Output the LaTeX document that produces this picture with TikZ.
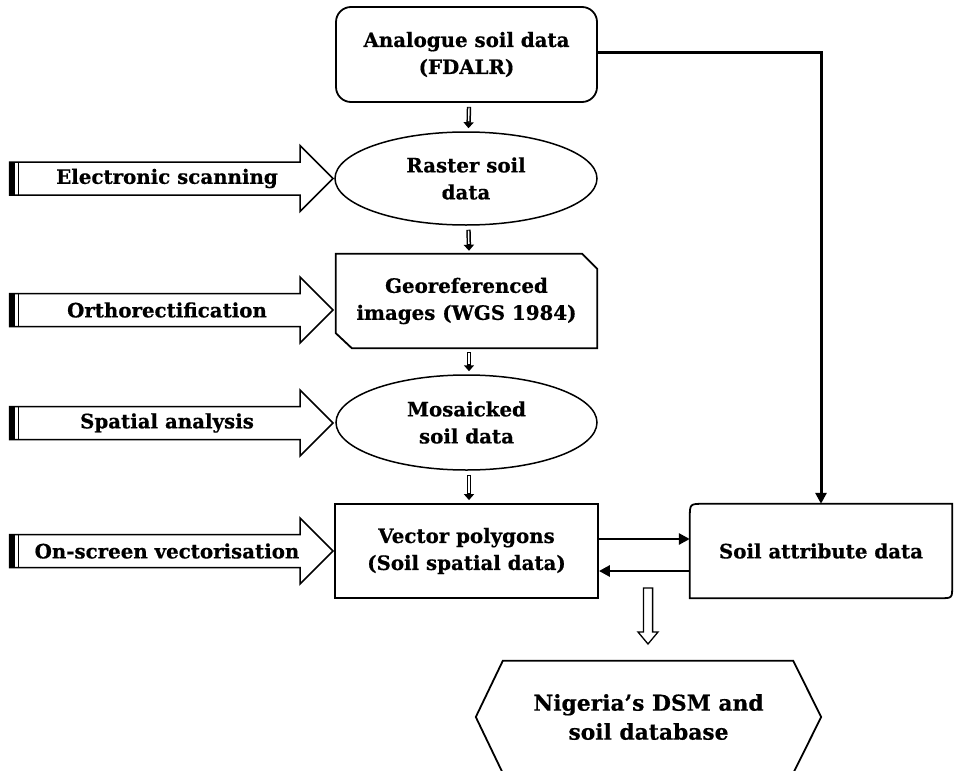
\documentclass[tikz,border=0pt]{standalone}
\usepackage{fontspec}
\setmainfont{DejaVu Serif}[BoldFeatures={FakeBold=0.6}]
\usetikzlibrary{shapes.geometric,arrows.meta,calc}
\begin{document}
\begin{tikzpicture}[x=1pt,y=-1pt,
  txt/.style={font=\bfseries\fontsize{19.8}{27}\selectfont, align=center, inner sep=0pt},
  bigtxt/.style={font=\bfseries\fontsize{21.8}{29}\selectfont, align=center, inner sep=0pt},
  boxline/.style={line width=1.8pt},
  ellline/.style={line width=1.5pt},
  blockarr/.style={line width=1.5pt, fill=white, line join=miter},
  thickconn/.style={line width=3pt, -{Triangle[length=11pt,width=11pt]}},
  medconn/.style={line width=2.8pt, -{Triangle[length=11pt,width=11pt]}},
  smallhead/.style={line width=4.4pt, -{Triangle[length=6pt,width=10pt]}},
  smallinner/.style={white, line width=1.4pt, shorten >=7pt, shorten <=0.8pt},
]
\useasboundingbox (0,0) rectangle (956,771);

% main column nodes
\node[txt, draw, boxline, rounded corners=15pt, minimum width=261pt, minimum height=95pt] (ana) at (466.5,54.5) {Analogue soil data\\(FDALR)};
\node[txt, ellipse, draw, ellline, minimum width=262pt, minimum height=93pt] (ras) at (466,178.5) {Raster soil\\data};
\node[txt, minimum width=261pt, minimum height=94pt] (geo) at (466.5,301) {Georeferenced\\images (WGS 1984)};
\node[txt, ellipse, draw, ellline, minimum width=261pt, minimum height=95pt] (mos) at (466.5,422.5) {Mosaicked\\soil data};
\node[txt, draw, boxline, minimum width=263pt, minimum height=94pt] (vec) at (466.5,551) {Vector polygons\\(Soil spatial data)};
\node[txt, minimum width=262pt, minimum height=94pt] (att) at (821,551) {Soil attribute data};
\node[bigtxt, minimum width=345pt, minimum height=112pt] (nig) at (648.5,717) {Nigeria’s DSM and\\soil database};

% georeferenced box (chamfered corners)
\draw[boxline, line join=miter] (geo.north west) -- ([xshift=-15pt]geo.north east) -- ([yshift=-15pt]geo.north east)
  -- (geo.south east) -- ([xshift=16pt]geo.south west) -- ([yshift=15pt]geo.south west) -- cycle;

% soil attribute box (two rounded corners)
\draw[boxline] ([yshift=-14pt]att.north west) .. controls (att.north west) .. ([xshift=14pt]att.north west)
  -- (att.north east) -- ([yshift=12pt]att.south east) .. controls (att.south east) .. ([xshift=-12pt]att.south east)
  -- (att.south west) -- cycle;

% hexagon
\draw[boxline, line join=miter] (nig.west) -- ([xshift=27pt]nig.north west) -- ([xshift=-28pt]nig.north east)
  -- (nig.east) -- ([xshift=-28pt]nig.south east) -- ([xshift=27pt]nig.south west) -- cycle;

% small vertical arrows
\foreach \a/\b in {ana/ras, ras/geo, geo/mos, mos/vec} {
  \draw[smallhead] ([xshift=2.5pt,yshift=-4pt]\a.south) -- ([xshift=2.5pt,yshift=3pt]\b.north);
  \draw[smallinner] ([xshift=2.5pt,yshift=-4pt]\a.south) -- ([xshift=2.5pt,yshift=3pt]\b.north);
}

% connectors
\draw[thickconn] ([yshift=2.5pt]ana.east) -| (att.north);
\draw[medconn] ([yshift=12pt]vec.east) -- ([yshift=12pt]vec.east -| att.west);
\draw[medconn] ([yshift=-20pt]vec.east -| att.west) -- ([yshift=-20pt]vec.east);

% hollow down arrow to the database
\coordinate (hd0) at (648,588);
\coordinate (hd1) at (648,644);
\draw[blockarr, line width=1.3pt] ($(hd0)+(-4.6,0)$) -- ($(hd0)+(4.6,0)$) -- ($(hd1)+(4.6,-12)$) -- ($(hd1)+(10,-12)$)
  -- (hd1) -- ($(hd1)+(-10,-12)$) -- ($(hd1)+(-4.6,-12)$) -- cycle;

% striped block arrows on the left
\foreach \yc/\lab/\nm in {178.5/Electronic scanning/lA, 310/Orthorectification/lB, 423/Spatial analysis/lC, 551/On-screen vectorisation/lD} {
  \draw[blockarr] (9.5,\yc-16.5) -- (300,\yc-16.5) -- (300,\yc-33) -- (333,\yc) -- (300,\yc+33)
    -- (300,\yc+16.5) -- (9.5,\yc+16.5) -- cycle;
  \fill (9.5,\yc-16.5) rectangle (15,\yc+16.5);
  \draw[line width=1.3pt] (18.5,\yc-16.5) -- (18.5,\yc+16.5);
  \node[txt] (\nm) at (167,\yc) {\lab};
}
\end{tikzpicture}
\end{document}
